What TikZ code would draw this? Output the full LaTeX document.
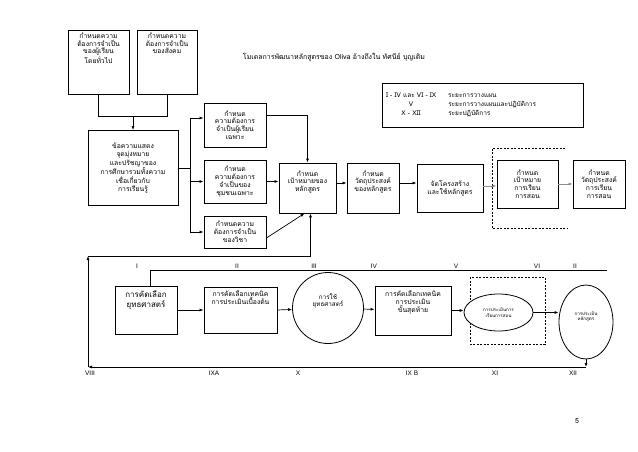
\documentclass[tikz,border=0pt]{standalone}
\usepackage{fontspec}
\setmainfont{Loma}[Script=Thai]
\newfontfamily\latinfont{Liberation Sans}
\usetikzlibrary{positioning,shapes.geometric,arrows.meta}

\begin{document}
\begin{tikzpicture}[
  x=1pt,y=-1pt,
  box/.style={draw, line width=0.8pt, align=center, inner sep=1pt, font=\fontsize{6.8}{7.8}\selectfont},
  boxframe/.style={draw, line width=0.8pt, inner sep=0pt},
  txt/.style={align=center, inner sep=0pt, font=\fontsize{6.8}{7.8}\selectfont},
  flow/.style={-{Latex[length=4pt,width=3pt]}, line width=0.7pt},
  grayflow/.style={flow, draw=black!45},
  link/.style={line width=0.7pt},
  fence/.style={line width=0.7pt, dash pattern=on 2pt off 1.5pt},
  numeral/.style={font=\latinfont\fontsize{6.5}{7}\selectfont, inner sep=0pt}
]
\useasboundingbox (0,0) rectangle (638,452);

% title and legend
\node[font=\fontsize{7}{8}\selectfont] (title) at (334,57)
  {โมเดลการพัฒนาหลักสูตรของ Oliva อ้างถึงใน ทัศนีย์ บุญเติม};
\node[draw, line width=0.8pt, minimum width=201pt, minimum height=44pt, text width=193pt, inner sep=4pt, align=left, font=\fontsize{6.5}{7.6}\selectfont] (legend) at (482.5,105)
  {\renewcommand\arraystretch{1.2}\begin{tabular}{@{}c@{\hspace{12pt}}l@{}}
   I - IV และ VI - IX & ระยะการวางแผน\\
   V & ระยะการวางแผนและปฏิบัติการ\\
   X - XII & ระยะปฏิบัติการ
   \end{tabular}};

% upper part
\node[boxframe, minimum width=61pt, minimum height=64pt] (needlearn) at (98.5,62) {};
\node[txt, below=3pt of needlearn.north] (needlearntext) {กำหนดความ\\ต้องการจำเป็น\\ของผู้เรียน\\โดยทั่วไป};
\node[boxframe, minimum width=60pt, minimum height=64pt] (needsoc) at (167,62) {};
\node[txt, below=3pt of needsoc.north] (needsoctext) {กำหนดความ\\ต้องการจำเป็น\\ของสังคม};

\node[box, minimum width=90pt, minimum height=75pt, font=\fontsize{6.8}{8.5}\selectfont] (philo) at (133,168)
  {ข้อความแสดง\\จุดมุ่งหมาย\\และปรัชญาของ\\การศึกษารวมทั้งความ\\เชื่อเกี่ยวกับ\\การเรียนรู้};

\node[box, minimum width=62pt, minimum height=44pt] (needind) at (235,125) {กำหนด\\ความต้องการ\\จำเป็นผู้เรียน\\เฉพาะ};
\node[box, minimum width=62pt, minimum height=43pt] (needcom) at (235,181.5) {กำหนด\\ความต้องการ\\จำเป็นของ\\ชุมชนเฉพาะ};
\node[box, minimum width=62pt, minimum height=32pt] (needsub) at (235,232) {กำหนดความ\\ต้องการจำเป็น\\ของวิชา};

\node[box, minimum width=57pt, minimum height=50pt] (curgoal) at (307.5,188) {กำหนด\\เป้าหมายของ\\หลักสูตร\\[6pt]};
\node[box, minimum width=52pt, minimum height=50pt] (curobj) at (373,188) {กำหนด\\วัตถุประสงค์\\ของหลักสูตร\\[6pt]};
\node[box, minimum width=66pt, minimum height=48pt] (curorg) at (450,188) {จัดโครงสร้าง\\และใช้หลักสูตร};
\node[box, minimum width=61pt, minimum height=48pt] (instgoal) at (527.5,184) {กำหนด\\เป้าหมาย\\การเรียน\\การสอน};
\node[box, minimum width=52pt, minimum height=48pt] (instobj) at (599,184) {กำหนด\\วัตถุประสงค์\\การเรียน\\การสอน};
\draw[fence] (565,148) -- (492,148) -- (492,228) -- (567,228);

\coordinate (join) at (133,116);
\coordinate (bus) at (190,168);
\draw[link] (needlearn.south) -- (needlearn.south |- join) -- (needsoc.south |- join) -- (needsoc.south);
\draw[flow] (join) -- (philo.north);
\draw[link] (philo.east) -- (bus);
\draw[flow] (bus) |- ([yshift=7pt]needind.west);
\draw[flow] (bus) |- (needcom.west);
\draw[flow] (bus) |- (needsub.west);
\draw[flow] ([yshift=10pt]needind.east) -| (curgoal.north);
\draw[flow] (needcom.east) -- (needcom.east -| curgoal.west);
\draw[flow] ([yshift=-6pt]needsub.east) -- ([xshift=-3pt]curgoal.south);
\draw[flow] ([yshift=5pt]curgoal.east) -- ([yshift=5pt]curgoal.east -| curobj.west);
\draw[flow] ([yshift=5pt]curobj.east) -- ([yshift=5pt]curobj.east -| curorg.west);
\draw[grayflow] ([yshift=2pt]curorg.east) -- ([yshift=2pt]curorg.east -| instgoal.west);
\draw[grayflow] (instgoal.east) -- (instgoal.east -| instobj.west);

% lower part
\node[boxframe, minimum width=62pt, minimum height=48pt] (strategy) at (146,310) {};
\node[txt, font=\fontsize{8}{10}\selectfont, below=5pt of strategy.north] (strategytext) {การคัดเลือก\\ยุทธศาสตร์};
\node[boxframe, minimum width=73pt, minimum height=46pt] (pretech) at (240.5,310) {};
\node[txt, below=4pt of pretech.north] (pretechtext) {การคัดเลือกเทคนิค\\การประเมินเบื้องต้น};
\node[draw, circle, line width=0.8pt, minimum size=71pt, fill=white, align=center, font=\fontsize{6.3}{7.6}\selectfont] (usestrat) at (328,308) {การใช้\\ยุทธศาสตร์\\[8pt]};
\node[boxframe, minimum width=76pt, minimum height=49pt] (finaltech) at (413,310.5) {};
\node[txt, below=5pt of finaltech.north] (finaltechtext) {การคัดเลือกเทคนิค\\การประเมิน\\ขั้นสุดท้าย};
\draw[fence] (470,277) rectangle (545,344);
\node[draw, ellipse, line width=0.8pt, minimum width=69pt, minimum height=37pt, fill=white, align=center, inner sep=0pt, font=\fontsize{4.5}{5.5}\selectfont] (insteval) at (498.5,312.5) {การประเมินการ\\เรียนการสอน};
\node[draw, ellipse, line width=0.8pt, minimum width=54pt, minimum height=74pt, fill=white, align=center, inner sep=0pt, font=\fontsize{4.5}{5.5}\selectfont] (cureval) at (586,322) {การประเมิน\\หลักสูตร\\[6pt]};

\draw[flow] (strategy.east) -- (strategy.east -| pretech.west);
\draw[flow] (pretech.east) -- (usestrat);
\draw[flow] (usestrat) -- (finaltech);
\draw[flow] (finaltech.east) -- (finaltech.east -| insteval.west);
\draw[flow] (insteval.east) -- (insteval.east -| cureval.west);

\coordinate (ruleend) at (607,270);
\draw[link] ([xshift=4pt]strategy.north) |- (ruleend);

\coordinate (loopbl) at (88,367);
\coordinate (looptl) at (88,256);
\draw[flow] (cureval.south) -- (cureval.south |- loopbl);
\draw[flow] (cureval.south |- loopbl) -- (loopbl);
\draw[flow] (loopbl) -- (looptl);
\draw[flow] (looptl) -| ([xshift=3pt]curgoal.south);

% phase numbers
\node[numeral] (n1) at (137,266) {I};
\node[numeral] (n2) at (237,266) {II};
\node[numeral] (n3) at (314,266) {III};
\node[numeral] (n4) at (374,266) {IV};
\node[numeral] (n5) at (456,266) {V};
\node[numeral] (n6) at (537,266) {VI};
\node[numeral] (n7) at (575,266) {II};
\node[numeral] (n8) at (90,373) {VIII};
\node[numeral] (n9a) at (214,373) {IXA};
\node[numeral] (n10) at (298,373) {X};
\node[numeral] (n9b) at (412,373) {IX B};
\node[numeral] (n11) at (495,373) {XI};
\node[numeral] (n12) at (573,373) {XII};

\node[font=\fontsize{7}{8}\selectfont] (page) at (577,421) {5};
\end{tikzpicture}
\end{document}
